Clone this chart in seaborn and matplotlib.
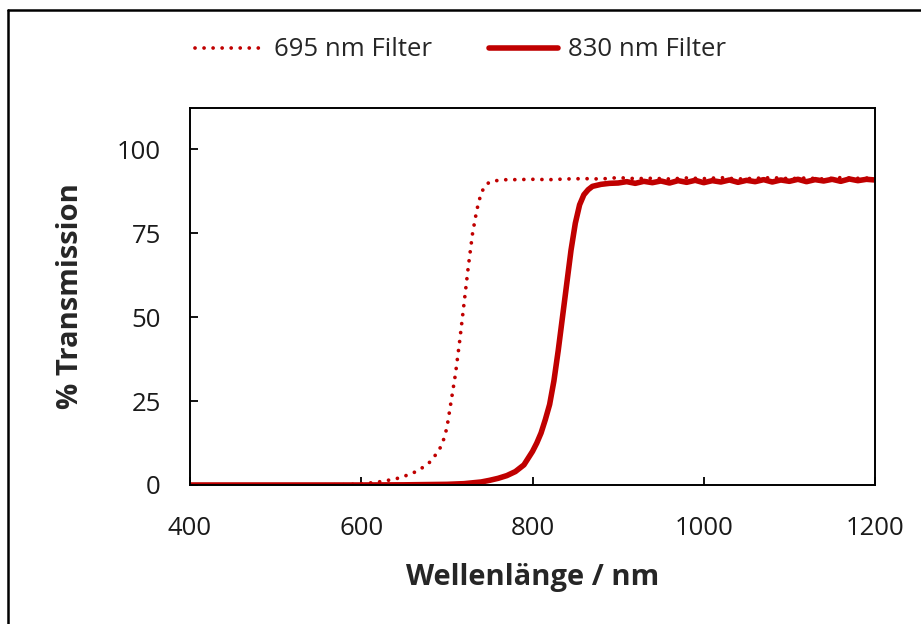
import numpy as np
import pandas as pd
import matplotlib
matplotlib.use("Agg")
import matplotlib.pyplot as plt
from matplotlib.lines import Line2D
import seaborn as sns

# ---- data ----
wl_695 = [400, 450, 500, 550, 580, 600, 620, 640, 650, 660, 670, 680, 690, 695,
          700, 705, 710, 715, 720, 725, 730, 735, 740, 745, 750, 760, 770, 780,
          800, 820, 840, 860, 880, 900, 920, 940, 960, 980, 1000, 1020, 1040,
          1060, 1080, 1100, 1120, 1140, 1160, 1180, 1200]
tr_695 = [0.0, 0.0, 0.0, 0.05, 0.1, 0.3, 0.9, 1.8, 2.6, 3.5, 4.9, 6.8, 10.0, 12.5,
          17.0, 25.0, 33.0, 43.0, 54.0, 65.0, 75.0, 82.0, 87.0, 89.3, 90.3, 90.8, 91.0, 91.0,
          91.1, 91.0, 91.2, 91.3, 91.2, 91.6, 91.3, 91.4, 91.2, 91.5, 91.3, 91.6, 91.2,
          91.4, 91.6, 91.3, 91.5, 91.2, 91.6, 91.4, 91.5]

wl_830 = [400, 500, 600, 650, 700, 720, 740, 750, 760, 770, 780, 790, 800, 805,
          810, 815, 820, 825, 830, 835, 840, 845, 850, 855, 860, 865, 870, 880,
          890, 900, 910, 920, 930, 940, 950, 960, 970, 980, 990, 1000, 1010, 1020,
          1030, 1040, 1050, 1060, 1070, 1080, 1090, 1100, 1110, 1120, 1130, 1140,
          1150, 1160, 1170, 1180, 1190, 1200]
tr_830 = [0.0, 0.0, 0.0, 0.05, 0.2, 0.4, 0.9, 1.4, 2.0, 2.8, 4.0, 6.0, 10.0, 12.5,
          15.5, 19.5, 24.0, 31.0, 40.0, 50.0, 60.0, 70.0, 78.0, 83.5, 86.5, 88.0, 89.0, 89.6,
          89.9, 90.0, 90.4, 89.9, 90.5, 90.1, 90.6, 90.0, 90.7, 90.2, 90.8, 90.1, 90.7, 90.3,
          90.9, 90.2, 90.8, 90.4, 91.0, 90.3, 90.9, 90.5, 91.1, 90.4, 91.0, 90.6, 91.1,
          90.5, 91.2, 90.7, 91.1, 90.9]

labels = ["695 nm Filter", "830 nm Filter"]
x_ticks = [400, 600, 800, 1000, 1200]
y_ticks = [0, 25, 50, 75, 100]
x_label = "Wellenlänge / nm"
y_label = "% Transmission"

df695 = pd.DataFrame({"wl": wl_695, "tr": tr_695})
df830 = pd.DataFrame({"wl": wl_830, "tr": tr_830})

sns.set_style("ticks")
plt.rcParams["font.family"] = ["Open Sans", "DejaVu Sans"]

red = "#C00000"
dot_lw = 2.7
dot_style = (0, (0.01, 2.4))
W, H = 921, 624
fig = plt.figure(figsize=(W / 100, H / 100), dpi=100)
ax = fig.add_axes([190 / W, 1 - 485 / H, (875 - 190) / W, (485 - 107.5) / H])

sns.lineplot(data=df695, x="wl", y="tr", ax=ax, color=red, lw=dot_lw,
             linestyle=dot_style, dash_capstyle="round",
             label=labels[0], legend=False)
sns.lineplot(data=df830, x="wl", y="tr", ax=ax, color=red, lw=4.0,
             solid_capstyle="butt", label=labels[1], legend=False)

ax.set_xlim(400, 1200)
ax.set_ylim(0, 112.5)
ax.set_xticks(x_ticks)
ax.set_yticks(y_ticks)
ax.tick_params(direction="in", length=6, width=1.3, colors="black",
               labelsize=18.5, labelcolor="#1a1a1a")
ax.tick_params(axis="y", pad=21)
ax.tick_params(axis="x", pad=22)
for s in ax.spines.values():
    s.set_linewidth(1.4)
    s.set_color("black")

ax.set_xlabel(x_label, fontsize=21, fontweight="bold", labelpad=16)
ax.set_ylabel(y_label, fontsize=21, fontweight="bold", labelpad=23)

handles = [Line2D([], [], color=red, lw=dot_lw, linestyle=dot_style,
                  dash_capstyle="round"),
           Line2D([], [], color=red, lw=4.0)]
fig.legend(handles, labels, loc="center", bbox_to_anchor=(0.5, 1 - 50 / H),
           ncol=2, frameon=False, fontsize=18.5, handlelength=2.7,
           handletextpad=0.4, columnspacing=2.2)

# outer border (as in the reference screenshot)
bx = 8 / W
by = 1 - 9.5 / H
fig.add_artist(Line2D([bx, bx], [-0.01, by], transform=fig.transFigure,
                      color="black", lw=1.8))
fig.add_artist(Line2D([bx, 1.01], [by, by], transform=fig.transFigure,
                      color="black", lw=1.8))

fig.savefig("out.png", dpi=100, facecolor="white")
